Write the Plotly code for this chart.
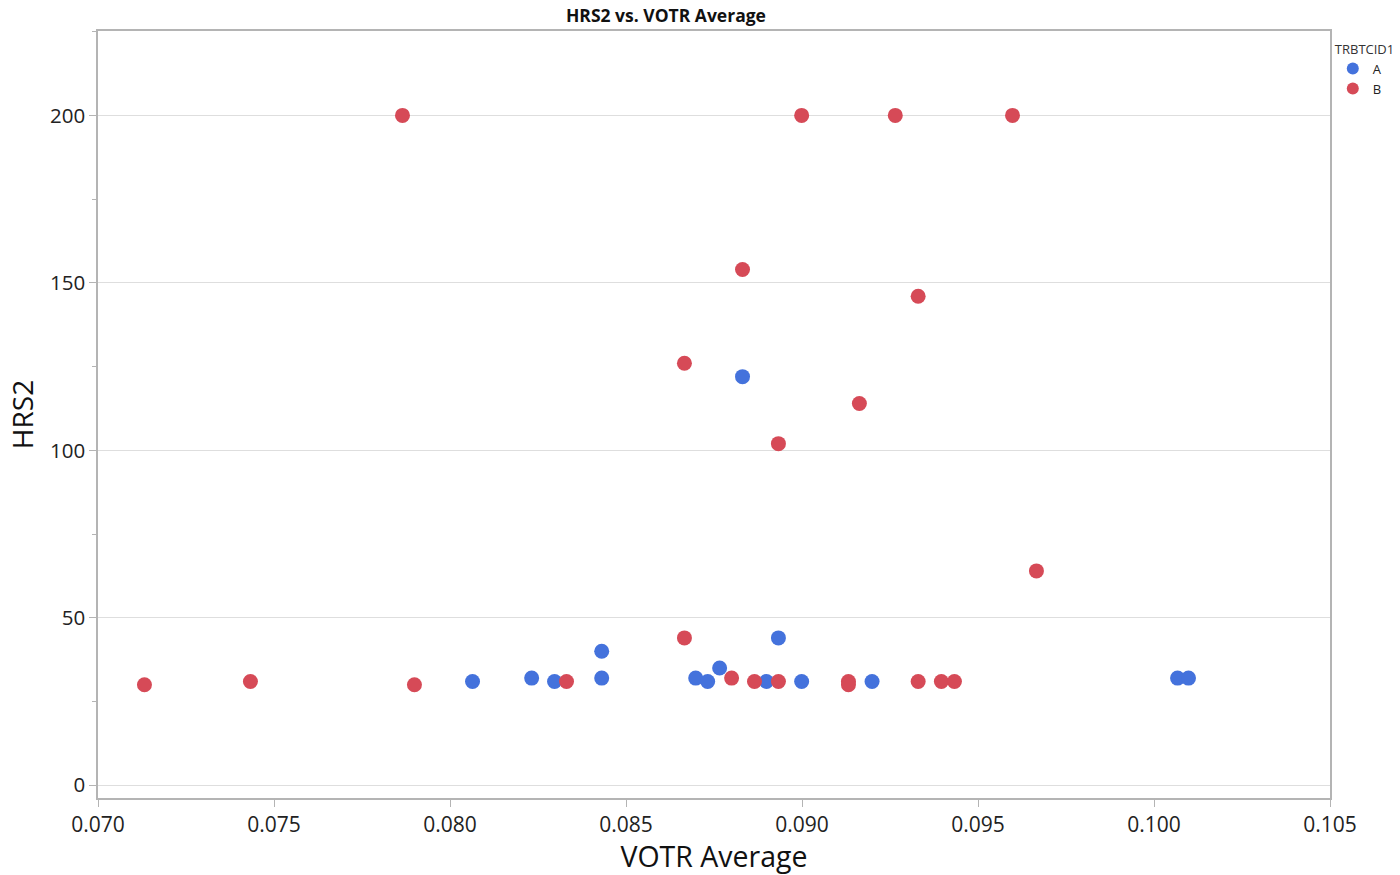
import plotly.graph_objects as go

# VOTR Average (x) and HRS2 (y) by TRBTCID1 group
votr_a = [0.08064, 0.08232, 0.08297, 0.08431, 0.08431, 0.08698, 0.08732, 0.08766,
          0.08831, 0.08899, 0.08933, 0.08999, 0.09199, 0.10067, 0.10098]
hrs2_a = [31, 32, 31, 40, 32, 32, 31, 35, 122, 31, 44, 31, 31, 32, 32]

votr_b = [0.07132, 0.07433, 0.07865, 0.07899, 0.08331, 0.08666, 0.08666, 0.08800,
          0.08831, 0.08865, 0.08933, 0.08933, 0.08999, 0.09132, 0.09132, 0.09163,
          0.09265, 0.09330, 0.09330, 0.09396, 0.09433, 0.09598, 0.09666]
hrs2_b = [30, 31, 200, 30, 31, 126, 44, 32, 154, 31, 31, 102, 200, 31, 30, 114,
          200, 146, 31, 31, 31, 200, 64]

x_ticks = [0.070, 0.075, 0.080, 0.085, 0.090, 0.095, 0.100, 0.105]
x_tick_labels = ["0.070", "0.075", "0.080", "0.085", "0.090", "0.095", "0.100", "0.105"]
y_ticks = [0, 50, 100, 150, 200]

FONT = "Open Sans"
AXIS_COLOR = "#b4b4b4"
GRID_COLOR = "#dedede"

fig = go.Figure()
fig.add_trace(go.Scatter(
    x=votr_a, y=hrs2_a, mode="markers", name="A",
    marker=dict(color="#4472DC", size=15, line=dict(width=0)),
))
fig.add_trace(go.Scatter(
    x=votr_b, y=hrs2_b, mode="markers", name="B",
    marker=dict(color="#D64A57", size=15, line=dict(width=0)),
))

fig.update_layout(
    width=1400, height=875,
    margin=dict(l=98, r=70, t=31, b=77, autoexpand=False),
    paper_bgcolor="white", plot_bgcolor="white",
    font=dict(family=FONT, color="#222222"),
    title=dict(
        text="<b>HRS2 vs. VOTR Average</b>",
        font=dict(family=FONT, size=17.5, color="#111111"),
        xref="paper", x=0.461, xanchor="center",
        yref="container", y=0.982, yanchor="middle",
    ),
    showlegend=True,
    legend=dict(
        title=dict(text="TRBTCID1", font=dict(family=FONT, size=13, color="#333333")),
        font=dict(family=FONT, size=13, color="#222222"),
        xref="container", x=0.952, xanchor="left",
        yref="container", y=0.958, yanchor="top",
        itemsizing="constant", tracegroupgap=0, itemwidth=30,
        bgcolor="rgba(0,0,0,0)", borderwidth=0,
    ),
    xaxis=dict(
        range=[0.070, 0.105],
        tickvals=x_ticks, ticktext=x_tick_labels,
        ticks="outside", ticklen=7, tickcolor=AXIS_COLOR,
        showline=True, linecolor=AXIS_COLOR, linewidth=1.5, mirror=True,
        showgrid=False, zeroline=False,
        tickfont=dict(family=FONT, size=21, color="#222222"),
        title=dict(text="VOTR Average", font=dict(family=FONT, size=28.5, color="#111111"),
                   standoff=8),
    ),
    yaxis=dict(
        range=[-3.8, 225.2],
        tickvals=y_ticks,
        ticks="outside", ticklen=7, tickcolor=AXIS_COLOR,
        minor=dict(dtick=25, tick0=0, ticks="outside", ticklen=4,
                   tickcolor=AXIS_COLOR, showgrid=False),
        showline=True, linecolor=AXIS_COLOR, linewidth=1.5, mirror=True,
        showgrid=True, gridcolor=GRID_COLOR, gridwidth=1, zeroline=False,
        tickfont=dict(family=FONT, size=20.5, color="#222222"),
        title=dict(text="HRS2", font=dict(family=FONT, size=28, color="#111111"),
                   standoff=8),
    ),
)

fig.write_html("out.html")
